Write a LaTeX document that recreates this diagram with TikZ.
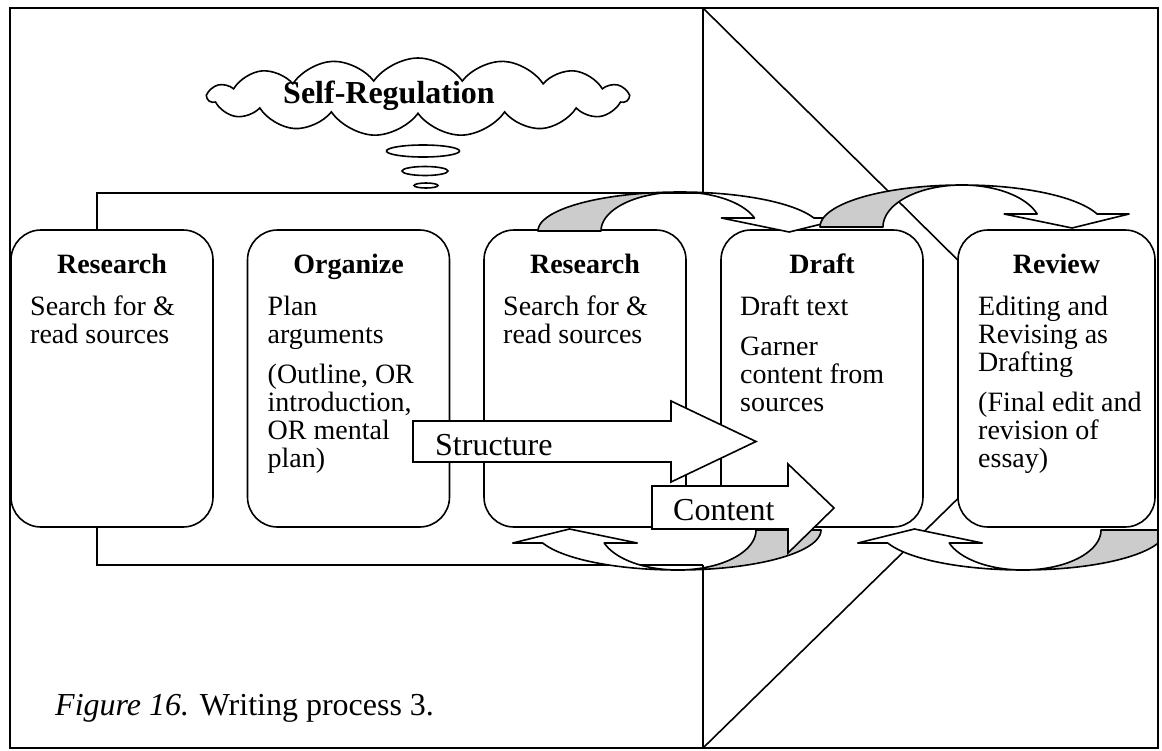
\documentclass[tikz,border=0pt]{standalone}
\usepackage{fontspec}
\setmainfont{Liberation Serif}
\usetikzlibrary{shapes.symbols,shapes.geometric}
\definecolor{backgray}{RGB}{204,204,204}

\begin{document}
\begin{tikzpicture}[
    x=1pt,y=-1pt,
    stage/.style={rectangle,draw,line width=1.6pt,rounded corners=30pt,fill=white,outer sep=0pt,minimum width=202pt,minimum height=297pt},
    title/.style={anchor=base,inner sep=0pt,font=\fontsize{28}{28}\selectfont\bfseries},
    body/.style={anchor=north west,inner sep=0pt,align=left,font=\fontsize{28}{28}\selectfont},
    band/.style={draw,line width=1.6pt,line join=round},
    blockarrow/.style={draw,line width=1.6pt,fill=white},
    bigtext/.style={anchor=base west,inner sep=0pt,font=\fontsize{32}{32}\selectfont},
    bubble/.style={ellipse,draw,line width=1.6pt,fill=white,inner sep=0pt}
]
    \useasboundingbox (0,0) rectangle (1162,750);
    \begin{scope}
    \clip (10,8) rectangle (1158,748);

    % big arrow behind everything
    \draw[line width=1.6pt] (703,8) -- (1079,380) -- (703,748) -- cycle;

    % bracket round the first stages
    \fill[white] (97,193) rectangle (706,565);
    \draw[line width=1.6pt] (703,193) -| (97,565) -- (703,565);

    % thought cloud
    \node[cloud,cloud puffs=15,cloud puff arc=110,cloud ignores aspect,draw,line width=1.6pt,fill=white,minimum width=420pt,minimum height=78pt] (cloud) at (418,97) {};
    \node[bigtext,anchor=base,font=\fontsize{32}{32}\selectfont\bfseries] (selfreg) at (389,103) {Self-Regulation};
    \node[bubble,minimum width=73pt,minimum height=12pt] (bubble1) at (423,151) {};
    \node[bubble,minimum width=46pt,minimum height=9pt] (bubble2) at (425,171) {};
    \node[bubble,minimum width=24pt,minimum height=5pt] (bubble3) at (426,185.5) {};

    % stages
    \node[stage] (research1) at (112,378.5) {};
    \node[stage] (organize) at (348.5,378.5) {};
    \node[stage] (research2) at (585,378.5) {};
    \node[stage] (draft) at (822,378.5) {};
    \node[stage,minimum width=197pt] (review) at (1056.5,378.5) {};

    \node[title] (research1-title) at ([yshift=-43pt]research1.north) {Research};
    \node[body] (research1-text) at ([xshift=19pt,yshift=-66pt]research1.north west) {Search for \&\\read sources};

    \node[title] (organize-title) at ([yshift=-43pt]organize.north) {Organize};
    \node[body] (organize-text) at ([xshift=20pt,yshift=-66pt]organize.north west) {Plan\\arguments\\[12pt](Outline, OR\\introduction,\\OR mental\\plan)};

    \node[title] (research2-title) at ([yshift=-43pt]research2.north) {Research};
    \node[body] (research2-text) at ([xshift=19pt,yshift=-66pt]research2.north west) {Search for \&\\read sources};

    \node[title] (draft-title) at ([yshift=-43pt]draft.north) {Draft};
    \node[body] (draft-text) at ([xshift=19pt,yshift=-66pt]draft.north west) {Draft text\\[12pt]Garner\\content from\\sources};

    \node[title] (review-title) at ([yshift=-43pt]review.north) {Review};
    \node[body] (review-text) at ([xshift=20pt,yshift=-66pt]review.north west) {Editing and\\Revising as\\Drafting\\[12pt](Final edit and\\revision of\\essay)};

    % curved arrows over the top
    \foreach \cx/\fy/\b in {680/231/39, 962/227/42} {
        \pgfmathsetmacro{\t}{asin(13/\b)}
        \pgfmathsetmacro{\te}{360-\t}
        \pgfmathsetmacro{\xo}{\cx+142*cos(\t)}
        \pgfmathsetmacro{\xi}{\cx+79*cos(\t)}
        \pgfmathsetmacro{\xt}{(\xo+\xi)/2+5}
        \draw[band,fill=backgray] plot[domain=180:270,samples=40] ({\cx+142*cos(\x)},{\fy+\b*sin(\x)})
            -- plot[domain=270:180,samples=40] ({\cx+79*cos(\x)},{\fy+\b*sin(\x)}) -- cycle;
        \draw[band,fill=white] plot[domain=270:\te,samples=40] ({\cx+142*cos(\x)},{\fy+\b*sin(\x)})
            -- ++(32,0) -- ({\xt},{\fy+1}) -- ({\xi-33},{\fy-13}) -- ({\xi},{\fy-13})
            -- plot[domain=\te:270,samples=40] ({\cx+79*cos(\x)},{\fy+\b*sin(\x)}) -- cycle;
    }

    % curved arrows underneath
    \foreach \cx/\fy in {678/530, 1023/530} {
        \pgfmathsetmacro{\t}{asin(13/40)}
        \pgfmathsetmacro{\te}{180-\t}
        \pgfmathsetmacro{\xo}{\cx-143*cos(\t)}
        \pgfmathsetmacro{\xi}{\cx-78*cos(\t)}
        \pgfmathsetmacro{\xt}{(\xo+\xi)/2-4}
        \draw[band,fill=backgray] plot[domain=0:90,samples=40] ({\cx+143*cos(\x)},{\fy+40*sin(\x)})
            -- plot[domain=90:0,samples=40] ({\cx+78*cos(\x)},{\fy+40*sin(\x)}) -- cycle;
        \draw[band,fill=white] plot[domain=90:\te,samples=40] ({\cx+143*cos(\x)},{\fy+40*sin(\x)})
            -- ++(-30,0) -- ({\xt},{\fy-1}) -- ({\xi+33},{\fy+13}) -- ({\xi},{\fy+13})
            -- plot[domain=\te:90,samples=40] ({\cx+78*cos(\x)},{\fy+40*sin(\x)}) -- cycle;
    }

    % structure and content
    \draw[blockarrow] (413,421) -- (671,421) -- (671,401) -- (756,441.5) -- (671,482) -- (671,462) -- (413,462) -- cycle;
    \node[bigtext] (structure) at (435,455) {Structure};
    \draw[blockarrow] (652,486) -- (788,486) -- (788,464) -- (834,508) -- (788,553) -- (788,529) -- (652,529) -- cycle;
    \node[bigtext] (content) at (673,520) {Content};

    \node[bigtext] (caption) at (55,715) {\textit{Figure 16.} Writing process 3.};
    \end{scope}

    % frame
    \draw[line width=2.2pt] (10,8) rectangle (1158,748);
\end{tikzpicture}
\end{document}
